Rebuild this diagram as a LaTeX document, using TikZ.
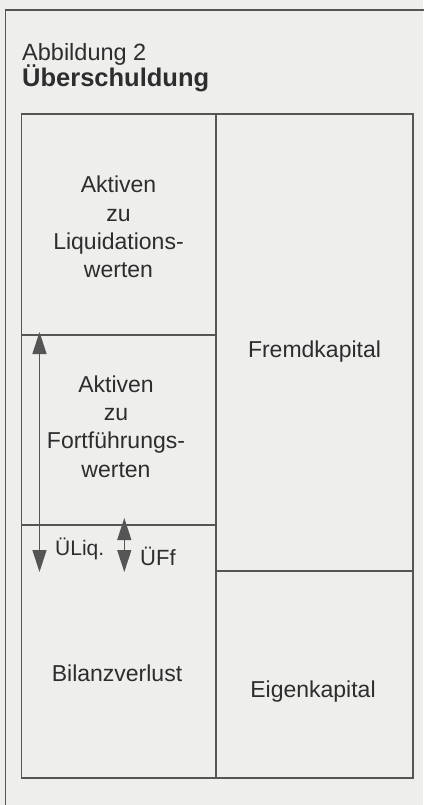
\documentclass[tikz,border=0pt]{standalone}
\usepackage{fontspec}
\setmainfont{Liberation Sans}
\usetikzlibrary{arrows.meta}
\definecolor{bgc}{RGB}{238,238,237}
\definecolor{linec}{RGB}{85,85,85}
\definecolor{txtc}{RGB}{45,45,45}
\tikzset{
  boxpart/.style={draw=linec, line width=1.4pt, minimum width=#1, inner sep=0pt, outer sep=0pt},
  boxtext/.style={text=txtc, align=center, inner sep=0pt, font=\fontsize{23}{28.3}\selectfont},
  dblarrow/.style={draw=linec, line width=1.3pt, {Triangle[length=22pt,width=14pt]}-{Triangle[length=22pt,width=14pt]}},
  smalllabel/.style={text=txtc, inner sep=0pt, anchor=base west, font=\fontsize{21}{25}\selectfont},
}
\begin{document}
\begin{tikzpicture}[x=1pt,y=-1pt]
\fill[bgc] (0,0) rectangle (423,805);
\useasboundingbox (0,0) rectangle (423,805);
% outer frame (open to the right and bottom)
\coordinate (fr) at (426,10);
\coordinate (fc) at (5.5,10);
\coordinate (fb) at (5.5,808);
\draw[linec, line width=1.4pt] (fr) -- (fc) -- (fb);
% title
\node[text=txtc, inner sep=0pt, anchor=base west, font=\fontsize{23.5}{28}\selectfont] (t1) at (22,61) {Abbildung 2};
\node[text=txtc, inner sep=0pt, anchor=base west, font=\fontsize{25.5}{30}\selectfont\bfseries] (t2) at (22,87) {Überschuldung};
% boxes
\node[boxpart=194.5pt, minimum height=221pt] (liq) at (118.75,224.5) {};
\node[boxpart=194.5pt, minimum height=190pt] (ff) at (118.75,430) {};
\node[boxpart=194.5pt, minimum height=253pt] (verl) at (118.75,651.5) {};
\node[boxpart=197pt, minimum height=457pt] (fremd) at (314.5,342.5) {};
\node[boxpart=197pt, minimum height=207pt] (eigen) at (314.5,674.5) {};
% texts
\node[boxtext] (liqt) at (118.5,227) {Aktiven\\zu\\Liquidations-\\werten};
\node[boxtext] (fft) at (116,426.5) {Aktiven\\zu\\Fortführungs-\\werten};
\node[boxtext] (fremdt) at (314.5,352) {Fremdkapital};
\node[boxtext] (verlt) at (117,673.5) {Bilanzverlust};
\node[boxtext] (eigent) at (313,691.5) {Eigenkapital};
% arrows
\coordinate (a1t) at (39.5,332);
\coordinate (a1b) at (39.5,572);
\draw[dblarrow] (a1t) -- (a1b);
\coordinate (a2t) at (124.3,518);
\coordinate (a2b) at (124.3,572);
\draw[dblarrow] (a2t) -- (a2b);
\node[smalllabel] (uliq) at (55,555) {ÜLiq.};
\node[smalllabel, font=\fontsize{22}{26}\selectfont] (uff) at (140,565) {ÜFf};
\end{tikzpicture}
\end{document}
